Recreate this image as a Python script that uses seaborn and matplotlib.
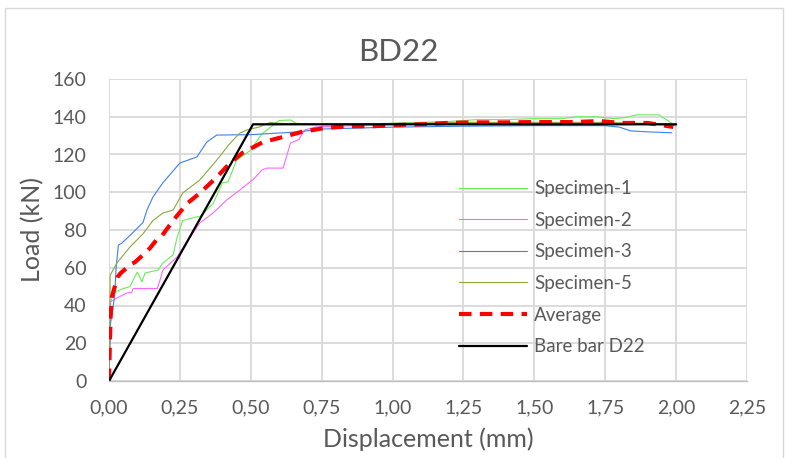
import matplotlib
matplotlib.use("Agg")
import matplotlib.pyplot as plt
from matplotlib.patches import Rectangle
from matplotlib.ticker import FuncFormatter
import seaborn as sns
import pandas as pd

# Load-displacement curves (displacement in mm, load in kN)
spec1_disp = [0, 0.002, 0.005, 0.02, 0.05, 0.074, 0.085, 0.10, 0.116, 0.127, 0.173, 0.19,
              0.226, 0.24, 0.26, 0.31, 0.32, 0.367, 0.40, 0.42, 0.45, 0.497, 0.54, 0.60,
              0.64, 0.66, 0.75, 0.90, 1.00, 1.10, 1.20, 1.30, 1.40, 1.50, 1.60, 1.65,
              1.72, 1.78, 1.82, 1.86, 1.94, 1.97, 2.00]
spec1_load = [0, 20, 42, 47, 49, 50, 53.5, 57.7, 52.5, 57.2, 58.8, 62.5,
              66.8, 76, 85, 87, 87, 94, 105, 105.5, 117, 122, 131, 138,
              138.3, 136.5, 136, 136, 136.5, 137, 137.5, 138.5, 138.5, 139, 139, 140,
              140, 139, 139.5, 141, 141, 138, 135]

spec2_disp = [0, 0.003, 0.006, 0.028, 0.063, 0.08, 0.085, 0.17, 0.18, 0.19, 0.24, 0.285,
              0.32, 0.367, 0.416, 0.46, 0.51, 0.54, 0.557, 0.614, 0.64, 0.67, 0.69, 0.73,
              0.80, 0.90, 1.00, 1.20, 1.40, 1.60, 1.70, 1.80, 1.90, 2.00]
spec2_load = [0, 20, 42, 44, 46.6, 47, 49, 49, 53.5, 58.8, 65.7, 76,
              83.7, 89, 96, 101, 107, 111.8, 112.8, 112.8, 126, 128, 133, 134.6,
              135, 135.5, 136, 136.5, 136.8, 136.8, 136.5, 136, 136, 135.5]

spec3_disp = [0, 0.005, 0.02, 0.025, 0.033, 0.045, 0.08, 0.12, 0.134, 0.155, 0.19, 0.25,
              0.31, 0.345, 0.38, 0.50, 0.67, 0.75, 1.00, 1.25, 1.50, 1.75, 1.80, 1.84,
              1.90, 1.985]
spec3_load = [0, 30, 45, 60, 72, 73, 78, 84, 90.6, 97.5, 105, 115.5,
              118.7, 126.6, 130.3, 130.5, 132, 133.5, 134.5, 135, 135.3, 135.3, 134.5, 132.5,
              132, 131.5]

spec5_disp = [0, 0.003, 0.004, 0.028, 0.074, 0.12, 0.155, 0.19, 0.226, 0.26, 0.32, 0.38,
              0.427, 0.462, 0.486, 0.53, 0.568, 0.60, 0.75, 1.00, 1.25, 1.50, 1.75, 1.90,
              2.00]
spec5_load = [0, 30, 56, 62.5, 71, 78, 85, 89, 90.6, 99.6, 106.5, 117,
              126, 131.4, 133, 134.6, 137, 136.5, 136, 136.5, 137, 137, 137, 136.5,
              136]

avg_disp = [0, 0.003, 0.006, 0.01, 0.03, 0.04, 0.074, 0.092, 0.127, 0.145, 0.173, 0.187,
            0.226, 0.275, 0.32, 0.38, 0.427, 0.47, 0.543, 0.614, 0.68, 0.76, 0.84, 0.93,
            1.01, 1.10, 1.19, 1.28, 1.40, 1.50, 1.64, 1.73, 1.81, 1.90, 1.99]
avg_load = [0, 20, 35, 44.5, 55, 57, 61.5, 63, 67.8, 70.5, 75.8, 77,
            85, 94, 99.5, 108, 115.5, 120.8, 126.6, 129.3, 132, 134, 135, 135,
            135.6, 136, 136.7, 137, 137, 137.2, 137.2, 137.7, 136.7, 136.7, 134.6]

bare_disp = [0, 0.508, 2.00]
bare_load = [0, 136, 136]

x_ticks = [0, 0.25, 0.5, 0.75, 1.0, 1.25, 1.5, 1.75, 2.0, 2.25]
y_ticks = [0, 20, 40, 60, 80, 100, 120, 140, 160]

series = [
    ("Specimen-1", spec1_disp, spec1_load, "#66ee55", 0.8, None),
    ("Specimen-2", spec2_disp, spec2_load, "#ff66ff", 0.8, None),
    ("Specimen-3", spec3_disp, spec3_load, "#3b7ff0", 0.8, None),
    ("Specimen-5", spec5_disp, spec5_load, "#8aa83c", 0.8, None),
    ("Average", avg_disp, avg_load, "#ff0000", 3.0, (3, 2)),
    ("Bare bar D22", bare_disp, bare_load, "#000000", 1.6, None),
]

sns.set_theme(style="whitegrid")
plt.rcParams['font.family'] = ['Lato', 'DejaVu Sans']
text_col = "#595959"

fig = plt.figure(figsize=(7.85, 4.58), dpi=100)
ax = fig.add_axes([109 / 785, 77 / 458, 638 / 785, 302 / 458])

for name, xs, ys, col, lw, dash in series:
    df = pd.DataFrame({"Displacement": xs, "Load": ys})
    sns.lineplot(data=df, x="Displacement", y="Load", sort=False, estimator=None,
                 ax=ax, color=col, linewidth=lw, label=name)
    if dash is not None:
        ax.lines[-1].set_dashes(dash)
        ax.lines[-1].set_dash_capstyle("butt")

ax.set_xlim(0, 2.25)
ax.set_ylim(0, 160)
ax.set_xticks(x_ticks)
ax.set_yticks(y_ticks)
ax.xaxis.set_major_formatter(FuncFormatter(lambda v, p: f"{v:.2f}".replace(".", ",")))
ax.yaxis.set_major_formatter(FuncFormatter(lambda v, p: f"{v:.0f}"))
ax.grid(True, color="#d9d9d9", linewidth=1.3)
for s in ax.spines.values():
    s.set_visible(False)
ax.spines["bottom"].set_visible(True)
ax.spines["bottom"].set_color("#bfbfbf")
ax.spines["bottom"].set_linewidth(1.0)
ax.tick_params(axis="both", length=0, labelsize=14, labelcolor=text_col)
ax.tick_params(axis="y", pad=16)
ax.tick_params(axis="x", pad=13)

ax.set_xlabel("Displacement (mm)", fontsize=18, color=text_col, labelpad=8)
ax.set_ylabel("Load (kN)", fontsize=18, color=text_col, labelpad=6)

fig.text(398 / 785, 1 - 52 / 458, "BD22", fontsize=22.5, color=text_col,
         ha="center", va="center")

leg = ax.legend(loc="upper left", bbox_to_anchor=(0.537, 0.69), frameon=False,
                fontsize=13.5, handlelength=3.6, handletextpad=0.4, labelspacing=0.78,
                borderaxespad=0)
for t in leg.get_texts():
    t.set_color(text_col)

fig.add_artist(Rectangle((5 / 785, -0.05), 778 / 785, 1.05 - 8 / 458,
                         transform=fig.transFigure, fill=False,
                         edgecolor="#d9d9d9", linewidth=1.0))

fig.savefig("out.png", dpi=100)
